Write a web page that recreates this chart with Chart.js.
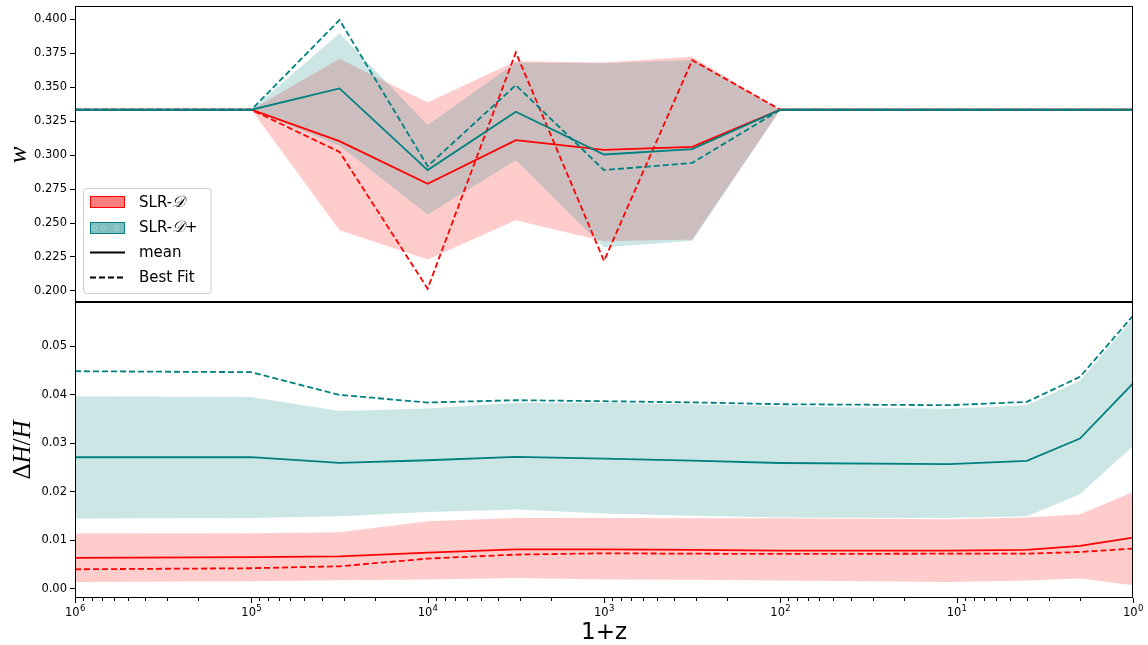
<!DOCTYPE html>
<html>
<head>
<meta charset="utf-8">
<script src="https://cdn.jsdelivr.net/npm/chart.js@4/dist/chart.umd.min.js"></script>
<style>
  html, body { margin: 0; padding: 0; background: #fff; }
  #wrap { position: relative; width: 1148px; height: 645px; overflow: hidden; }
  canvas { position: absolute; left: 0; }
  #cw { top: 0; }
  #ch { top: 302px; }
</style>
</head>
<body>
<div id="wrap">
  <canvas id="cw" width="1148" height="303"></canvas>
  <canvas id="ch" width="1148" height="343"></canvas>
</div>
<script>
// Redshift grid (1+z)
const onePlusZ = [1e6, 1e5, 31623, 1e4, 3162, 1e3, 316, 100, 11, 4, 2, 1];

// Equation of state w: SLR-D
const wMeanD  = [0.3333, 0.3333, 0.3102, 0.2788, 0.3109, 0.3038, 0.3060, 0.3333, 0.3333, 0.3333, 0.3333, 0.3333];
const wBestD  = [0.3333, 0.3333, 0.3023, 0.2017, 0.3755, 0.2221, 0.3698, 0.3333, 0.3333, 0.3333, 0.3333, 0.3333];
const wLoD    = [0.3333, 0.3333, 0.2447, 0.2231, 0.2520, 0.2366, 0.2378, 0.3333, 0.3333, 0.3333, 0.3333, 0.3333];
const wHiD    = [0.3333, 0.3333, 0.3708, 0.3387, 0.3690, 0.3680, 0.3723, 0.3333, 0.3333, 0.3333, 0.3333, 0.3333];
// Equation of state w: SLR-D+
const wMeanDp = [0.3333, 0.3333, 0.3490, 0.2889, 0.3318, 0.3004, 0.3043, 0.3333, 0.3333, 0.3333, 0.3333, 0.3333];
const wBestDp = [0.3333, 0.3333, 0.3993, 0.2918, 0.3514, 0.2889, 0.2942, 0.3333, 0.3333, 0.3333, 0.3333, 0.3333];
const wLoDp   = [0.3333, 0.3333, 0.3068, 0.2562, 0.2962, 0.2319, 0.2370, 0.3333, 0.3333, 0.3333, 0.3333, 0.3333];
const wHiDp   = [0.3333, 0.3333, 0.3895, 0.3220, 0.3680, 0.3675, 0.3698, 0.3333, 0.3333, 0.3333, 0.3333, 0.3333];

// Relative Hubble shift dH/H: SLR-D
const dhMeanD  = [0.00632, 0.0065, 0.00666, 0.00742, 0.0081, 0.0081, 0.0080, 0.00784, 0.00784, 0.0080, 0.0088, 0.01052];
const dhBestD  = [0.00398, 0.0042, 0.0046, 0.00619, 0.00701, 0.00728, 0.0072, 0.00714, 0.0072, 0.0072, 0.00755, 0.00825];
const dhLoD    = [0.00137, 0.0015, 0.0017, 0.0019, 0.0022, 0.0019, 0.0018, 0.00165, 0.00137, 0.00165, 0.00206, 0.00068];
const dhHiD    = [0.01135, 0.0114, 0.01162, 0.01389, 0.01457, 0.01457, 0.0145, 0.0145, 0.0143, 0.01465, 0.01533, 0.01993];
// Relative Hubble shift dH/H: SLR-D+
const dhMeanDp = [0.02709, 0.0271, 0.02592, 0.02647, 0.02716, 0.0268, 0.0264, 0.0259, 0.02565, 0.02633, 0.03094, 0.0423];
const dhBestDp = [0.04483, 0.04463, 0.03994, 0.03837, 0.03885, 0.03864, 0.0384, 0.03802, 0.03782, 0.0385, 0.04366, 0.05625];
const dhLoDp   = [0.01444, 0.01457, 0.01492, 0.0158, 0.0163, 0.01547, 0.0150, 0.01465, 0.01457, 0.0149, 0.01946, 0.02942];
const dhHiDp   = [0.03967, 0.0395, 0.03664, 0.03713, 0.0383, 0.0383, 0.0380, 0.0376, 0.0371, 0.0378, 0.04284, 0.0557];

// Tick values
const wTicks  = [0.200, 0.225, 0.250, 0.275, 0.300, 0.325, 0.350, 0.375, 0.400];
const dhTicks = [0.00, 0.01, 0.02, 0.03, 0.04, 0.05];
const xMajorTicks = [1e6, 1e5, 1e4, 1e3, 1e2, 1e1, 1e0];

const RED = '#ff0000';
const TEAL = '#008080';
const LW = 1.8;
const DASH = [6, 3];

const pts = arr => onePlusZ.map((x, i) => ({ x: x, y: arr[i] }));

function bandSets(lo, hi, fillColor, order) {
  return [
    { data: pts(lo), borderColor: 'transparent', borderWidth: 0, pointRadius: 0, fill: false, order: order },
    { data: pts(hi), borderColor: 'transparent', borderWidth: 0, pointRadius: 0, fill: '-1',
      backgroundColor: fillColor, order: order }
  ];
}
function lineSet(arr, color, dashed, order) {
  return { data: pts(arr), borderColor: color, borderWidth: LW, borderDash: dashed ? DASH : [],
           pointRadius: 0, fill: false, tension: 0, order: order };
}

function makeDatasets(loD, hiD, meanD, bestD, loDp, hiDp, meanDp, bestDp) {
  return [
    ...bandSets(loD, hiD, 'rgba(255,0,0,0.2)', 10),
    ...bandSets(loDp, hiDp, 'rgba(0,128,128,0.2)', 9),
    lineSet(meanD, RED, false, 6),
    lineSet(bestD, RED, true, 5),
    lineSet(meanDp, TEAL, false, 4),
    lineSet(bestDp, TEAL, true, 3)
  ];
}

// Box around each panel
const framePlugin = {
  id: 'frame',
  afterDraw(chart) {
    const a = chart.chartArea, ctx = chart.ctx;
    ctx.save();
    ctx.strokeStyle = '#000';
    ctx.lineWidth = 1;
    const l = Math.round(a.left) + 0.5, t = Math.round(a.top) + 0.5;
    const r = Math.round(a.right) - 0.5, b = Math.round(a.bottom) - 0.5;
    ctx.strokeRect(l, t, r - l, b - t);
    ctx.restore();
  }
};

// Rotated math-style y-axis title made of pieces
function drawRotatedMath(ctx, cx, cy, parts) {
  ctx.save();
  ctx.translate(cx, cy);
  ctx.rotate(-Math.PI / 2);
  ctx.fillStyle = '#000';
  ctx.textBaseline = 'middle';
  let total = 0;
  parts.forEach(p => { ctx.font = p.font; p.w = ctx.measureText(p.t).width; total += p.w; });
  let x = -total / 2;
  parts.forEach(p => { ctx.font = p.font; ctx.textAlign = 'left'; ctx.fillText(p.t, x, 0); x += p.w; });
  ctx.restore();
}

const topTitles = {
  id: 'topTitles',
  afterDraw(chart) {
    drawRotatedMath(chart.ctx, 19, 155, [{ t: 'w', font: 'italic 25px "Liberation Serif"' }]);
  }
};

const legendPlugin = {
  id: 'customLegend',
  afterDraw(chart) {
    const ctx = chart.ctx;
    ctx.save();
    const bx = 83.5, by = 188.5, bw = 127.5, bh = 105, rad = 3;
    ctx.beginPath();
    ctx.moveTo(bx + rad, by);
    ctx.arcTo(bx + bw, by, bx + bw, by + bh, rad);
    ctx.arcTo(bx + bw, by + bh, bx, by + bh, rad);
    ctx.arcTo(bx, by + bh, bx, by, rad);
    ctx.arcTo(bx, by, bx + bw, by, rad);
    ctx.closePath();
    ctx.fillStyle = 'rgba(255,255,255,0.8)';
    ctx.fill();
    ctx.strokeStyle = '#cccccc';
    ctx.lineWidth = 1;
    ctx.stroke();

    // patches
    ctx.fillStyle = 'rgba(255,0,0,0.5)';
    ctx.fillRect(90, 196, 35, 12);
    ctx.strokeStyle = RED;
    ctx.lineWidth = 1;
    ctx.strokeRect(90.5, 196.5, 34, 11);

    ctx.fillStyle = 'rgba(0,128,128,0.5)';
    ctx.fillRect(90, 222, 35, 12);
    ctx.strokeStyle = TEAL;
    ctx.strokeRect(90.5, 222.5, 34, 11);
    ctx.strokeStyle = 'rgba(255,255,255,0.35)';
    ctx.lineWidth = 0.8;
    [[95, 228], [103.5, 228], [116.5, 228]].forEach(([x, y]) => {
      ctx.beginPath(); ctx.arc(x, y, 2.2, 0, Math.PI * 2); ctx.stroke();
    });

    // line samples
    ctx.strokeStyle = '#000';
    ctx.lineWidth = LW;
    ctx.beginPath(); ctx.moveTo(90, 252.5); ctx.lineTo(125, 252.5); ctx.stroke();
    ctx.setLineDash(DASH);
    ctx.beginPath(); ctx.moveTo(90, 277.5); ctx.lineTo(125, 277.5); ctx.stroke();
    ctx.setLineDash([]);

    // labels
    ctx.fillStyle = '#000';
    ctx.textBaseline = 'middle';
    ctx.textAlign = 'left';
    const sans = '15px "DejaVu Sans"';
    const script = 'italic 16px "DejaVu Serif"';
    function label(x, y, parts) {
      parts.forEach(p => { ctx.font = p[1]; ctx.fillText(p[0], x, y); x += ctx.measureText(p[0]).width; });
    }
    label(139, 203, [['SLR-', sans], ['𝒟', script]]);
    label(139, 228, [['SLR-', sans], ['𝒟', script], ['+', sans]]);
    label(139, 253, [['mean', sans]]);
    label(139, 278, [['Best Fit', sans]]);
    ctx.restore();
  }
};

const bottomTitles = {
  id: 'bottomTitles',
  afterDraw(chart) {
    const ctx = chart.ctx;
    drawRotatedMath(ctx, 23, 148, [
      { t: 'Δ', font: '25px "Liberation Serif"' },
      { t: 'H', font: 'italic 25px "Liberation Serif"' },
      { t: '/', font: '25px "Liberation Serif"' },
      { t: 'H', font: 'italic 25px "Liberation Serif"' }
    ]);
    ctx.save();
    ctx.fillStyle = '#000';
    ctx.font = '23px "DejaVu Sans"';
    ctx.textAlign = 'center';
    ctx.textBaseline = 'middle';
    ctx.fillText('1+z', 604, 331);
    ctx.restore();
  }
};

// Major and minor tick marks on the log axis, with power-of-ten labels
const xTickVals = [];
for (let d = 0; d < 6; d++) for (let m = 1; m < 10; m++) xTickVals.push(m * Math.pow(10, d));
xTickVals.push(1e6);
const isMajor = v => Math.abs(Math.log10(v) - Math.round(Math.log10(v))) < 1e-9;

const xTickMarks = {
  id: 'xTickMarks',
  afterDraw(chart) {
    const s = chart.scales.x, ctx = chart.ctx, b = Math.round(chart.chartArea.bottom);
    ctx.save();
    ctx.strokeStyle = '#000';
    ctx.lineWidth = 1;
    xTickVals.forEach(v => {
      const px = Math.round(s.getPixelForValue(v)) + 0.5;
      const len = isMajor(v) ? 5 : 3;
      ctx.beginPath(); ctx.moveTo(px, b); ctx.lineTo(px, b + len); ctx.stroke();
    });
    // labels: 10 with raised exponent
    ctx.fillStyle = '#000';
    ctx.textBaseline = 'alphabetic';
    ctx.textAlign = 'left';
    const baseFont = '11.5px "DejaVu Sans"', expFont = '8.5px "DejaVu Sans"';
    xMajorTicks.forEach(v => {
      const px = s.getPixelForValue(v);
      const e = String(Math.round(Math.log10(v)));
      ctx.font = baseFont; const wb = ctx.measureText('10').width;
      ctx.font = expFont; const we = ctx.measureText(e).width;
      const x0 = px - (wb + we) / 2;
      ctx.font = baseFont; ctx.fillText('10', x0, b + 17.5);
      ctx.font = expFont; ctx.fillText(e, x0 + wb + 0.3, b + 12.5);
    });
    ctx.restore();
  }
};

const noEdgePadding = s => { s.paddingTop = 0; s.paddingBottom = 0; s.paddingLeft = 0; s.paddingRight = 0; };

const yAxisBase = (ticksArr, fmt, min, max) => ({
  min: min, max: max,
  afterBuildTicks: s => { s.ticks = ticksArr.map(v => ({ value: v })); },
  afterFit: s => { s.width = 75; noEdgePadding(s); },
  ticks: { callback: v => Number(v).toFixed(fmt), font: { family: 'DejaVu Sans', size: 11.5 },
           color: '#000', padding: 3 },
  grid: { drawOnChartArea: false, drawTicks: true, tickLength: 5, tickColor: '#000', tickWidth: 1 },
  border: { display: false }
});

const xAxisBase = {
  type: 'logarithmic', reverse: true, min: 1, max: 1e6
};

new Chart(document.getElementById('cw'), {
  type: 'line',
  data: { datasets: makeDatasets(wLoD, wHiD, wMeanD, wBestD, wLoDp, wHiDp, wMeanDp, wBestDp) },
  options: {
    responsive: false, animation: false, devicePixelRatio: 1,
    layout: { autoPadding: false, padding: { top: 6, right: 15, bottom: 1, left: 0 } },
    plugins: { legend: { display: false }, tooltip: { enabled: false } },
    scales: {
      x: Object.assign({}, xAxisBase, { display: false }),
      y: yAxisBase(wTicks, 3, 0.1919, 0.4096)
    }
  },
  plugins: [framePlugin, topTitles, legendPlugin]
});

new Chart(document.getElementById('ch'), {
  type: 'line',
  data: { datasets: makeDatasets(dhLoD, dhHiD, dhMeanD, dhBestD, dhLoDp, dhHiDp, dhMeanDp, dhBestDp) },
  options: {
    responsive: false, animation: false, devicePixelRatio: 1,
    layout: { autoPadding: false, padding: { top: 0, right: 15, bottom: 0, left: 0 } },
    plugins: { legend: { display: false }, tooltip: { enabled: false } },
    scales: {
      x: Object.assign({}, xAxisBase, {
        afterBuildTicks: s => { s.ticks = xMajorTicks.map(v => ({ value: v })); },
        afterFit: s => { s.height = 47; noEdgePadding(s); },
        ticks: { display: false },
        grid: { display: false, drawTicks: false },
        border: { display: false }
      }),
      y: yAxisBase(dhTicks, 2, -0.00194, 0.0591)
    }
  },
  plugins: [framePlugin, bottomTitles, xTickMarks]
});
</script>
</body>
</html>
